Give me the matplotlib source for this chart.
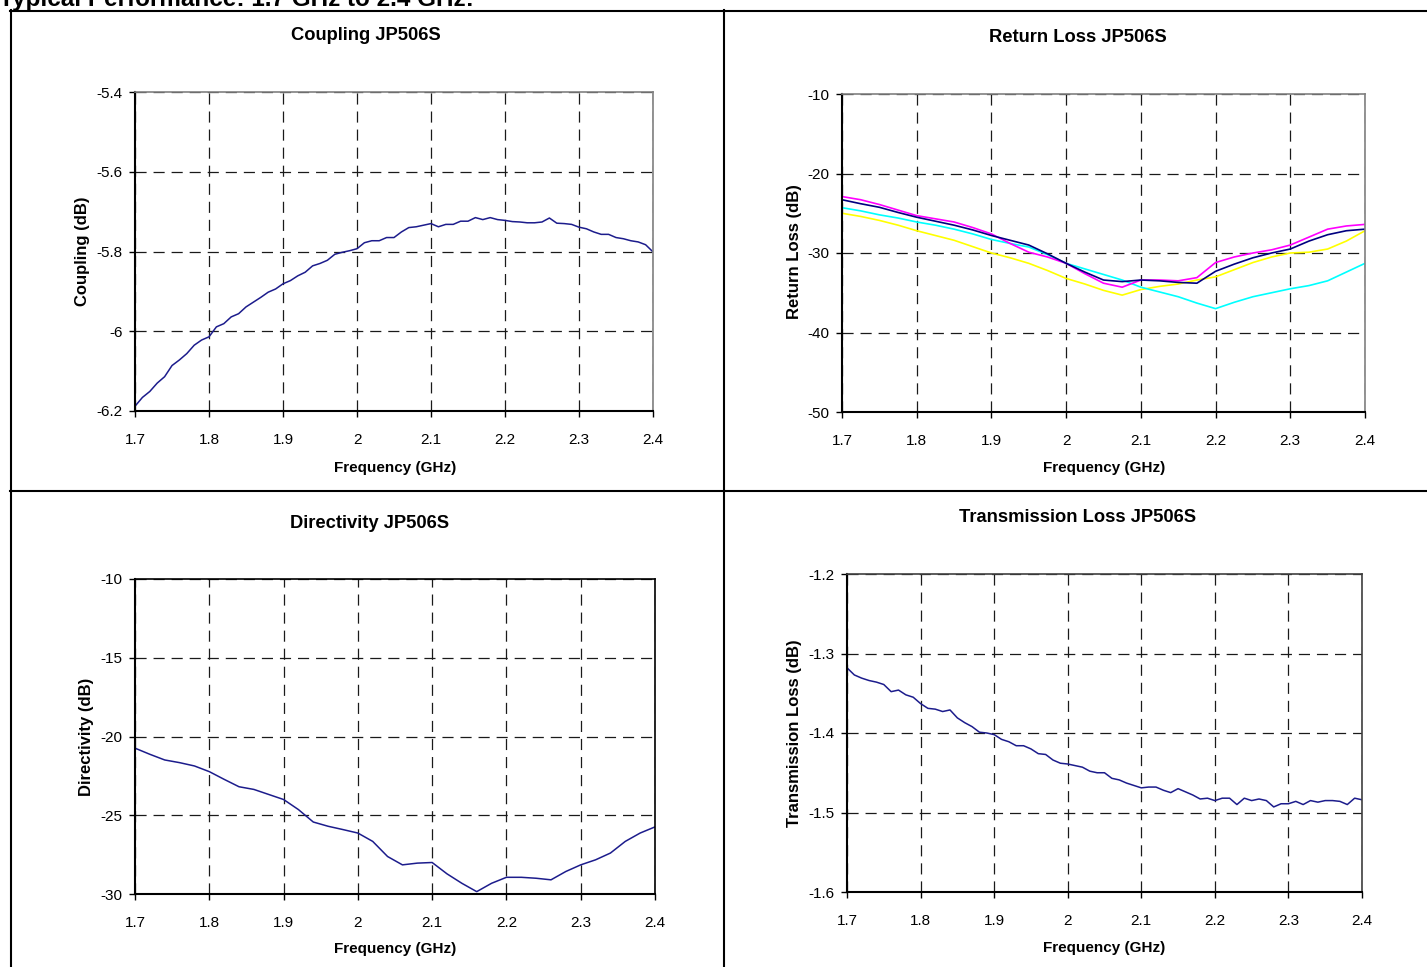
import numpy as np
import matplotlib
matplotlib.use("Agg")
import matplotlib.pyplot as plt
from matplotlib.ticker import FuncFormatter
from matplotlib.lines import Line2D
from matplotlib import font_manager

# ---------------- data ----------------
page_title = "Typical Performance: 1.7 GHz to 2.4 GHz:"
x_ticks = [1.7, 1.8, 1.9, 2.0, 2.1, 2.2, 2.3, 2.4]

freq_c = [1.70, 1.71, 1.72, 1.73, 1.74, 1.75, 1.76, 1.77, 1.78, 1.79,
          1.80, 1.81, 1.82, 1.83, 1.84, 1.85, 1.86, 1.87, 1.88, 1.89,
          1.90, 1.91, 1.92, 1.93, 1.94, 1.95, 1.96, 1.97, 1.98, 1.99,
          2.00, 2.01, 2.02, 2.03, 2.04, 2.05, 2.06, 2.07, 2.08, 2.09,
          2.10, 2.11, 2.12, 2.13, 2.14, 2.15, 2.16, 2.17, 2.18, 2.19,
          2.20, 2.21, 2.22, 2.23, 2.24, 2.25, 2.26, 2.27, 2.28, 2.29,
          2.30, 2.31, 2.32, 2.33, 2.34, 2.35, 2.36, 2.37, 2.38, 2.39, 2.40]
coupling = [-6.188, -6.166, -6.151, -6.130, -6.114, -6.086, -6.072, -6.056, -6.035, -6.022,
            -6.014, -5.989, -5.981, -5.964, -5.956, -5.939, -5.927, -5.915, -5.902, -5.894,
            -5.881, -5.873, -5.861, -5.852, -5.836, -5.830, -5.822, -5.807, -5.802, -5.798,
            -5.793, -5.778, -5.773, -5.773, -5.765, -5.765, -5.751, -5.740, -5.738, -5.734,
            -5.730, -5.738, -5.732, -5.732, -5.724, -5.724, -5.715, -5.720, -5.715, -5.720,
            -5.722, -5.725, -5.726, -5.728, -5.728, -5.726, -5.716, -5.729, -5.730, -5.732,
            -5.739, -5.743, -5.751, -5.757, -5.757, -5.765, -5.768, -5.773, -5.776, -5.783, -5.801]
coupling_ticks = [-6.2, -6.0, -5.8, -5.6, -5.4]

freq_rl = [1.700, 1.725, 1.750, 1.775, 1.800, 1.825, 1.850, 1.875, 1.900, 1.925,
           1.950, 1.975, 2.000, 2.025, 2.050, 2.075, 2.100, 2.125, 2.150, 2.175,
           2.200, 2.225, 2.250, 2.275, 2.300, 2.325, 2.350, 2.375, 2.400]
rl_magenta = [-22.9, -23.3, -23.9, -24.6, -25.3, -25.7, -26.1, -26.8, -27.6, -28.8,
              -29.9, -30.5, -31.3, -32.6, -33.8, -34.3, -33.4, -33.4, -33.5, -33.1,
              -31.2, -30.5, -30.0, -29.6, -29.0, -28.0, -27.0, -26.6, -26.4]
rl_navy = [-23.3, -23.8, -24.25, -24.9, -25.5, -26.0, -26.5, -27.1, -27.8, -28.4,
           -29.0, -30.1, -31.3, -32.4, -33.4, -33.6, -33.4, -33.5, -33.7, -33.8,
           -32.3, -31.4, -30.6, -30.0, -29.5, -28.5, -27.7, -27.2, -27.0]
rl_cyan = [-24.3, -24.7, -25.2, -25.6, -26.1, -26.5, -27.0, -27.6, -28.3, -28.8,
           -29.25, -30.2, -31.3, -32.0, -32.7, -33.4, -34.3, -34.9, -35.5, -36.3,
           -37.0, -36.2, -35.5, -35.0, -34.5, -34.1, -33.5, -32.4, -31.3]
rl_yellow = [-25.0, -25.4, -25.9, -26.5, -27.2, -27.8, -28.4, -29.2, -30.0, -30.6,
             -31.3, -32.2, -33.2, -33.9, -34.7, -35.3, -34.6, -34.2, -33.9, -33.4,
             -33.0, -32.1, -31.2, -30.5, -30.0, -29.9, -29.5, -28.5, -27.2]
rl_ticks = [-50, -40, -30, -20, -10]

freq_d = [1.70, 1.72, 1.74, 1.76, 1.78, 1.80, 1.82, 1.84, 1.86, 1.88,
          1.90, 1.92, 1.94, 1.96, 1.98, 2.00, 2.02, 2.04, 2.06, 2.08,
          2.10, 2.12, 2.14, 2.16, 2.18, 2.20, 2.22, 2.24, 2.26, 2.28,
          2.30, 2.32, 2.34, 2.36, 2.38, 2.40]
directivity = [-20.74, -21.13, -21.49, -21.66, -21.87, -22.23, -22.72, -23.19, -23.36, -23.68,
               -24.00, -24.64, -25.43, -25.70, -25.91, -26.13, -26.66, -27.62, -28.15, -28.04,
               -28.00, -28.72, -29.32, -29.85, -29.32, -28.94, -28.94, -29.00, -29.10, -28.57,
               -28.15, -27.83, -27.40, -26.66, -26.13, -25.74]
directivity_ticks = [-30, -25, -20, -15, -10]

freq_t = freq_c
transmission = [-1.318, -1.327, -1.331, -1.334, -1.336, -1.339, -1.348, -1.346, -1.352, -1.355,
                -1.363, -1.369, -1.370, -1.373, -1.371, -1.381, -1.387, -1.392, -1.399, -1.400,
                -1.402, -1.408, -1.411, -1.416, -1.416, -1.420, -1.426, -1.427, -1.434, -1.438,
                -1.439, -1.441, -1.443, -1.448, -1.450, -1.450, -1.457, -1.459, -1.463, -1.466,
                -1.469, -1.468, -1.468, -1.472, -1.475, -1.470, -1.474, -1.478, -1.483, -1.482,
                -1.485, -1.482, -1.482, -1.490, -1.482, -1.485, -1.483, -1.485, -1.493, -1.489,
                -1.489, -1.486, -1.490, -1.485, -1.487, -1.485, -1.485, -1.486, -1.490, -1.482, -1.484]
transmission_ticks = [-1.6, -1.5, -1.4, -1.3, -1.2]

# ---------------- fonts ----------------
names = {f.name for f in font_manager.fontManager.ttflist}
NARROW = "Liberation Sans Narrow" in names
plt.rcParams["font.family"] = ["Liberation Sans", "DejaVu Sans"]
plt.rcParams["lines.scale_dashes"] = False
if NARROW:
    title_font = dict(family=["Liberation Sans Narrow", "Liberation Sans"], fontsize=15, fontweight="bold")
    xlab_font = dict(family=["Liberation Sans Narrow", "Liberation Sans"], fontsize=13, fontweight="bold")
else:
    title_font = dict(family=["Liberation Sans", "DejaVu Sans"], fontsize=13.2, fontweight="bold")
    xlab_font = dict(family=["Liberation Sans", "DejaVu Sans"], fontsize=11, fontweight="bold")
ylab_font = dict(family=["Liberation Sans", "DejaVu Sans"], fontsize=12, fontweight="bold")

W, H = 1427, 967
fig = plt.figure(figsize=(W / 100, H / 100), dpi=100)
fig.patch.set_facecolor("white")


def fx(x):
    return x / W


def fy(y):
    return 1 - y / H


def make_axes(l, t, r, b):
    return fig.add_axes([fx(l), fy(b), (r - l) / W, (b - t) / H])


def fmt(v, pos):
    return f"{round(v, 3):g}"


def style(ax, yticks, edge_color="#808080"):
    ax.set_xlim(x_ticks[0], x_ticks[-1])
    ax.set_ylim(yticks[0], yticks[-1])
    ax.set_xticks(x_ticks)
    ax.set_yticks(yticks)
    ax.xaxis.set_major_formatter(FuncFormatter(fmt))
    ax.yaxis.set_major_formatter(FuncFormatter(fmt))
    ax.grid(True, color="#1a1a1a", lw=0.9, linestyle=(0, (8, 5)))
    ax.set_axisbelow(True)
    ax.tick_params(direction="out", length=4, width=1, labelsize=11, colors="black")
    ax.tick_params(axis="x", pad=12)
    ax.tick_params(axis="y", pad=5)
    for s in ("left", "bottom"):
        ax.spines[s].set_color("black")
        ax.spines[s].set_linewidth(1.5)
    for s in ("top", "right"):
        ax.spines[s].set_color(edge_color)
        ax.spines[s].set_linewidth(1.2)


navy = "#1c1c8c"

# Coupling
ax1 = make_axes(135, 92, 653, 411)
ax1.plot(freq_c, coupling, color=navy, lw=1.1)
style(ax1, coupling_ticks)

# Return loss
ax2 = make_axes(842, 94, 1365, 412)
ax2.plot(freq_rl, rl_yellow, color="#ffff00", lw=1.2)
ax2.plot(freq_rl, rl_cyan, color="#00ffff", lw=1.2)
ax2.plot(freq_rl, rl_magenta, color="#ff00ff", lw=1.2)
ax2.plot(freq_rl, rl_navy, color="#000080", lw=1.2)
style(ax2, rl_ticks)

# Directivity
ax3 = make_axes(135, 579, 655, 894)
ax3.plot(freq_d, directivity, color=navy, lw=1.1)
style(ax3, directivity_ticks, edge_color="black")

# Transmission loss
ax4 = make_axes(847, 574, 1362, 892)
ax4.plot(freq_t, transmission, color=navy, lw=1.1)
style(ax4, transmission_ticks, edge_color="#404040")

# titles and labels
fig.text(fx(366), fy(35), "Coupling JP506S", ha="center", va="center", **title_font)
fig.text(fx(1078), fy(37), "Return Loss JP506S", ha="center", va="center", **title_font)
fig.text(fx(370), fy(523), "Directivity JP506S", ha="center", va="center", **title_font)
fig.text(fx(1078), fy(518), "Transmission Loss JP506S", ha="center", va="center", **title_font)

for cx, cy in [(395, 468), (1104, 468), (395, 949), (1104, 948)]:
    fig.text(fx(cx), fy(cy), "Frequency (GHz)", ha="center", va="center", **xlab_font)

fig.text(fx(83), fy(251), "Coupling (dB)", rotation=90, ha="center", va="center", **ylab_font)
fig.text(fx(795), fy(252), "Return Loss (dB)", rotation=90, ha="center", va="center", **ylab_font)
fig.text(fx(87), fy(737), "Directivity (dB)", rotation=90, ha="center", va="center", **ylab_font)
fig.text(fx(795), fy(733), "Transmission Loss (dB)", rotation=90, ha="center", va="center", **ylab_font)

# page heading (cut off at the top, as in the source page)
fig.text(fx(-1), fy(6), page_title, ha="left", va="baseline",
         family=["Liberation Sans", "DejaVu Sans"], fontsize=17.5, fontweight="bold")

# table frame
frame = [((10, 1427), (11, 11)), ((11, 11), (10, 967)), ((724, 724), (10, 967)),
         ((10, 1427), (491, 491))]
for xs, ys in frame:
    fig.add_artist(Line2D([fx(xs[0]), fx(xs[1])], [fy(ys[0]), fy(ys[1])],
                          transform=fig.transFigure, color="black", lw=1.5))

fig.savefig("out.png", dpi=100, facecolor="white")
